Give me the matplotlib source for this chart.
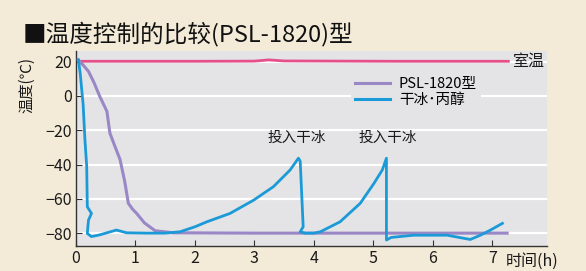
import matplotlib
matplotlib.use("Agg")
import matplotlib.pyplot as plt
from matplotlib.lines import Line2D

plt.rcParams['font.family'] = ['Noto Sans CJK SC', 'DejaVu Sans']

# ---- data ----
room_x = [0.10, 1.0, 2.0, 3.0, 3.24, 3.5, 4.5, 5.5, 6.5, 7.27]
room_y = [20.2, 20.2, 20.2, 20.3, 21.0, 20.4, 20.3, 20.2, 20.2, 20.2]

psl_x = [0.04, 0.12, 0.21, 0.30, 0.40, 0.52, 0.57, 0.65, 0.74, 0.82, 0.88, 0.95, 1.02, 1.15, 1.33, 1.64, 3.0, 5.0, 7.25]
psl_y = [21.0, 18.0, 14.3, 8.0, -0.3, -9.0, -21.7, -29.0, -37.0, -50.0, -62.6, -66.0, -68.5, -74.0, -78.6, -79.8, -80.0, -80.0, -80.0]

ice_x = [0.04, 0.07, 0.12, 0.15, 0.18, 0.19, 0.26, 0.21, 0.19, 0.26, 0.40, 0.68, 0.85,
         1.2, 1.5, 1.75, 2.0, 2.2, 2.59, 2.99, 3.32, 3.60, 3.74, 3.77, 3.82, 3.77, 3.85,
         4.0, 4.11, 4.44, 4.78, 5.01, 5.15, 5.22, 5.22, 5.30, 5.68, 6.24, 6.63, 6.80, 6.97, 7.17]
ice_y = [21.0, 13.4, -5.0, -25.6, -41.0, -64.6, -68.5, -72.4, -80.2, -82.0, -81.0, -78.2, -79.8,
         -80.0, -80.0, -79.2, -76.3, -73.4, -68.5, -60.7, -52.9, -43.2, -36.3, -38.0, -76.3, -79.2, -80.0,
         -80.0, -79.2, -73.4, -62.6, -51.0, -43.2, -36.3, -84.0, -82.5, -81.2, -81.2, -83.7, -81.2, -78.2, -74.3]

x_ticks = [0, 1, 2, 3, 4, 5, 6, 7]
y_ticks = [20, 0, -20, -40, -60, -80]
y_tick_labels = ['20', '0', '\u221220', '\u221240', '\u221260', '\u221280']

title = '■温度控制的比较(PSL-1820)型'
legend_labels = ['PSL-1820型', '干冰\uff65丙醇']
note_text = '投入干冰'
note_x = [3.71, 5.25]
note_y = [-28.5, -28.5]

# ---- colors ----
bg = '#f3ebd8'
axbg = '#e4e4e6'
c_room = '#e5508a'
c_psl = '#9a88c6'
c_ice = '#1b9ad8'

fig = plt.figure(figsize=(5.86, 2.71), dpi=100, facecolor=bg)
ax = fig.add_axes([76/586, 1-246/271, (547-76)/586, (246-51)/271])
ax.set_facecolor(axbg)

ax.set_xlim(0, 7.92)
ax.set_ylim(-87.5, 26.2)

for yv in y_ticks:
    ax.axhline(yv, color='white', lw=1.6, zorder=1)

ax.plot(room_x, room_y, color=c_room, lw=2.0, zorder=3)
ax.plot(psl_x, psl_y, color=c_psl, lw=2.2, zorder=3)
ax.plot(ice_x, ice_y, color=c_ice, lw=2.0, zorder=4)

for s in ['top', 'right']:
    ax.spines[s].set_visible(False)
for s in ['left', 'bottom']:
    ax.spines[s].set_color('#333333')
    ax.spines[s].set_linewidth(1.0)

ax.set_xticks(x_ticks)
ax.set_yticks(y_ticks)
ax.set_yticklabels(y_tick_labels)
ax.tick_params(axis='both', direction='in', length=4, width=0.8, color='#333333',
               labelsize=11.5, labelcolor='#1a1a1a', pad=3)

ax.text(7.34, 20.2, '室温', fontsize=11.5, color='#1a1a1a', va='center', ha='left', zorder=5)
for xx, yy in zip(note_x, note_y):
    ax.text(xx, yy, note_text, fontsize=10.5, color='#1a1a1a', ha='center', va='bottom', zorder=5)

handles = [Line2D([], [], color=c_psl, lw=2.2), Line2D([], [], color=c_ice, lw=2.2)]
leg = ax.legend(handles, legend_labels, loc='upper left', bbox_to_anchor=(4.62/7.92, 1-(73-51)/(246-51)),
                frameon=True, facecolor=axbg, edgecolor='none', framealpha=1, fancybox=False,
                fontsize=10.5, handlelength=2.4, handletextpad=0.6, labelspacing=0.1,
                borderpad=0.3, borderaxespad=0)
leg.set_zorder(5)

fig.text(23/586, 1-34/271, title, fontsize=17, color='#111111', ha='left', va='center')
fig.text(27/586, 1-85/271, '温度(℃)', fontsize=11, color='#1a1a1a', rotation=90, ha='center', va='center')
fig.text(506/586, 1-261/271, '时间(h)', fontsize=11.5, color='#1a1a1a', ha='left', va='center')

fig.savefig('out.png', dpi=100, facecolor=bg)
